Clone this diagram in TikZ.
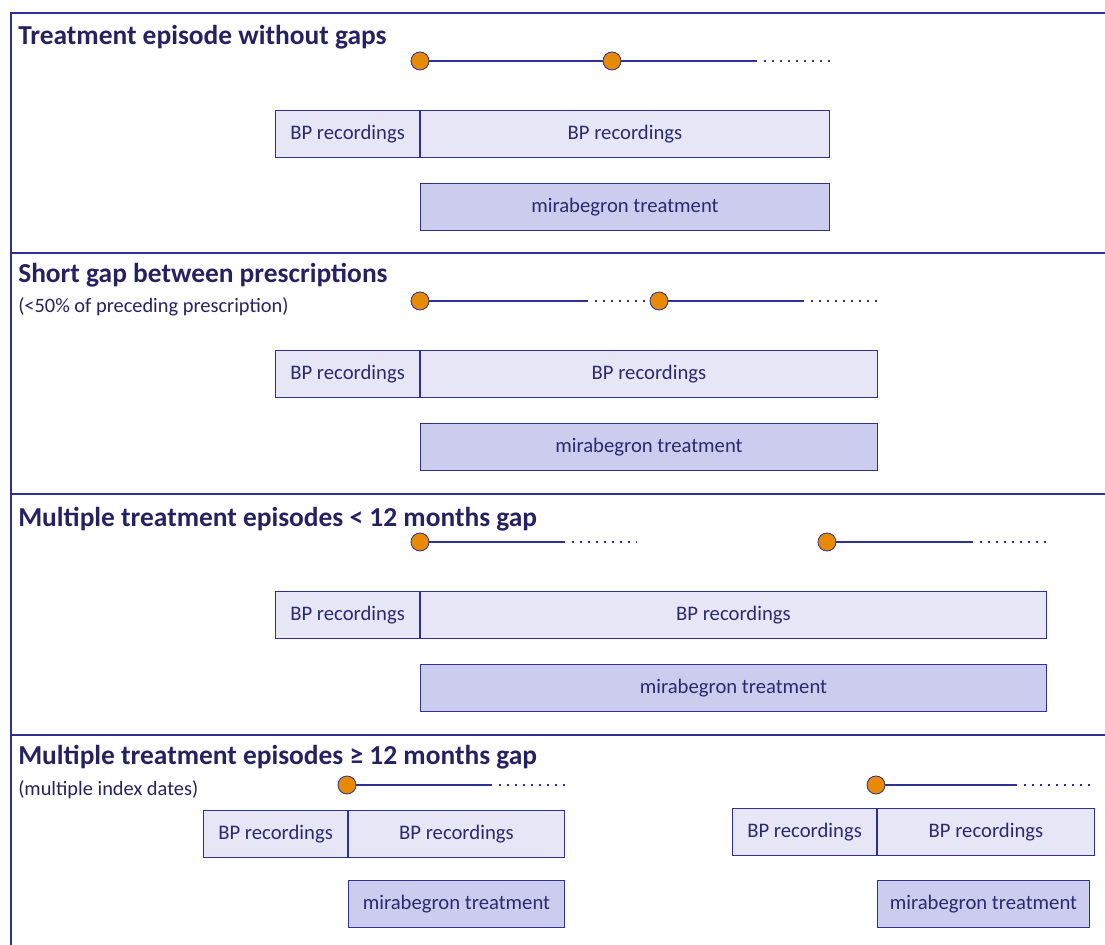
\documentclass[tikz,border=0pt]{standalone}
\usepackage{fontspec}
\setmainfont{Carlito}
\usetikzlibrary{positioning}
\definecolor{navy}{RGB}{46,49,146}
\definecolor{titlecol}{RGB}{38,34,98}
\definecolor{textcol}{RGB}{43,42,110}
\definecolor{bpfill}{RGB}{230,230,246}
\definecolor{rxfill}{RGB}{204,204,238}
\definecolor{dotorange}{RGB}{232,138,0}
\begin{document}
\begin{tikzpicture}[x=0.025cm,y=-0.025cm,
		frame/.style={draw=navy,line width=0.8pt},
		title/.style={anchor=base west,inner sep=0,text=titlecol,font=\fontsize{19.5}{23}\selectfont\bfseries},
		note/.style={anchor=base west,inner sep=0,text=titlecol,font=\fontsize{14.5}{17}\selectfont},
		dot/.style={circle,draw=navy,fill=dotorange,line width=0.6pt,minimum size=0.45cm,inner sep=0},
		run/.style={draw=navy,line width=1.4pt},
		tail/.style={draw=navy,line width=1.1pt,dash pattern=on 1.1pt off 4.6pt,shorten <=0.18cm},
		bpbox/.style={draw=navy,fill=bpfill,line width=0.6pt,inner sep=0,minimum height=1.175cm,text=textcol,font=\fontsize{14.7}{17}\selectfont},
		rxbox/.style={bpbox,fill=rxfill},
		wd/.style={minimum width=#1*0.025cm}]
	\useasboundingbox (0,0) rectangle (1105,945);
	%Frame
		\draw[frame] (11,945) -- (11,13) -- (1105,13);
		\foreach \y in {253,494,735}
		{
			\draw[frame] (11,\y) -- (1105,\y);
		}
	%Titles
		\node[title] (t1) at (18,45) {Treatment episode without gaps};
		\node[title] (t2) at (18,283) {Short gap between prescriptions};
		\node[note] (n2) at (18,313) {(<50\% of preceding prescription)};
		\node[title] (t3) at (18,526) {Multiple treatment episodes < 12 months gap};
		\node[title] (t4) at (18,764) {Multiple treatment episodes ≥ 12 months gap};
		\node[note] (n4) at (18,795) {(multiple index dates)};
	%Boxes, sections 1 to 3
		\foreach \i/\top/\w in {1/110/409,2/350/457,3/591/626}
		{
			\node[bpbox,wd=144,anchor=north east] (bpa\i) at (420,\top) {BP recordings};
			\node[bpbox,wd=\w,right=0pt of bpa\i] (bpb\i) {BP recordings};
			\node[rxbox,wd=\w,below=0.625cm of bpb\i] (rx\i) {mirabegron treatment};
		}
	%Boxes, section 4
		\node[bpbox,wd=144,anchor=north east] (bpa4) at (348,810) {BP recordings};
		\node[bpbox,wd=216,right=0pt of bpa4] (bpb4) {BP recordings};
		\node[rxbox,wd=216,anchor=north west] (rx4) at (348,880) {mirabegron treatment};
		\node[bpbox,wd=144,anchor=north east] (bpa5) at (877,808) {BP recordings};
		\node[bpbox,wd=217,right=0pt of bpa5] (bpb5) {BP recordings};
		\node[rxbox,wd=212,anchor=north west] (rx5) at (877,880) {mirabegron treatment};
	%Timeline 1
		\node[dot] (d1a) at (420,61) {};
		\node[dot] (d1b) at (612,61) {};
		\coordinate (e1) at (757,61);
		\coordinate (f1) at (830,61);
		\draw[run] (d1a) -- (d1b) -- (e1);
		\draw[tail] (e1) -- (f1);
	%Timeline 2
		\node[dot] (d2a) at (420,301) {};
		\node[dot] (d2b) at (659,301) {};
		\coordinate (e2a) at (588,301);
		\coordinate (e2b) at (804,301);
		\coordinate (f2) at (878,301);
		\draw[run] (d2a) -- (e2a);
		\draw[tail] (e2a) -- (d2b);
		\draw[run] (d2b) -- (e2b);
		\draw[tail] (e2b) -- (f2);
	%Timeline 3
		\node[dot] (d3a) at (420,542) {};
		\node[dot] (d3b) at (827,542) {};
		\coordinate (e3a) at (565,542);
		\coordinate (f3a) at (637,542);
		\coordinate (e3b) at (973,542);
		\coordinate (f3b) at (1046,542);
		\draw[run] (d3a) -- (e3a);
		\draw[tail] (e3a) -- (f3a);
		\draw[run] (d3b) -- (e3b);
		\draw[tail] (e3b) -- (f3b);
	%Timeline 4
		\node[dot] (d4a) at (347,785) {};
		\node[dot] (d4b) at (876,785) {};
		\coordinate (e4a) at (492,785);
		\coordinate (f4a) at (566,785);
		\coordinate (e4b) at (1017,785);
		\coordinate (f4b) at (1091,785);
		\draw[run] (d4a) -- (e4a);
		\draw[tail] (e4a) -- (f4a);
		\draw[run] (d4b) -- (e4b);
		\draw[tail] (e4b) -- (f4b);
\end{tikzpicture}
\end{document}
